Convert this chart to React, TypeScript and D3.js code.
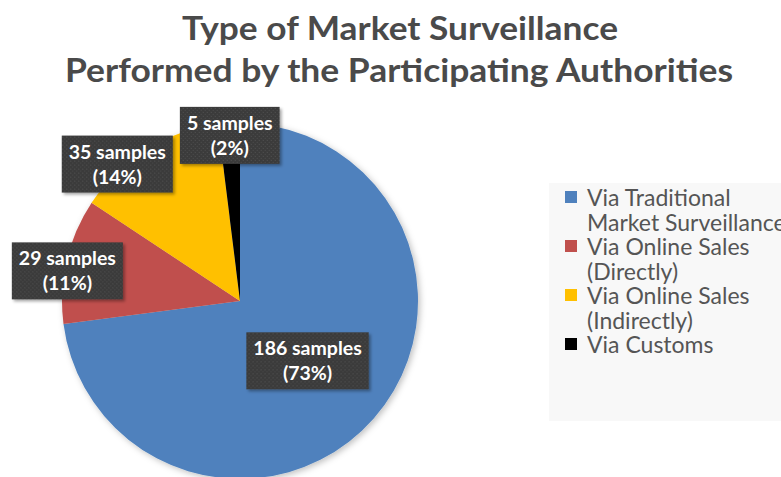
import React, { useEffect, useRef } from "react";
import * as d3 from "d3";

const titleLines = ["Type of Market Surveillance", "Performed by the Participating Authorities"];
const categories = [
  "Via Traditional Market Surveillance",
  "Via Online Sales (Directly)",
  "Via Online Sales (Indirectly)",
  "Via Customs",
];
const legendLines = [
  ["Via Traditional", "Market Surveillance"],
  ["Via Online Sales", "(Directly)"],
  ["Via Online Sales", "(Indirectly)"],
  ["Via Customs"],
];
const sampleCounts = [186, 29, 35, 5];
const percentLabels = ["73%", "11%", "14%", "2%"];
const colors = ["#4f81bd", "#c0504d", "#ffc000", "#000000"];

// label placement (layout): radius factor and angle nudge (deg) from slice middle
const labelRadiusFactor = [0.505, 0.985, 1.035, 0.935];
const labelAngleNudge = [0, -3, -10, 0];

const W = 781;
const H = 477;

export default function App() {
  const ref = useRef<SVGSVGElement>(null);

  useEffect(() => {
    const svg = d3.select(ref.current);
    svg.selectAll("*").remove();

    const defs = svg.append("defs");
    const pat = defs
      .append("pattern")
      .attr("id", "dots")
      .attr("width", 4)
      .attr("height", 4)
      .attr("patternUnits", "userSpaceOnUse");
    pat.append("rect").attr("width", 4).attr("height", 4).attr("fill", "#3b3b3b");
    pat.append("rect").attr("x", 1).attr("y", 1).attr("width", 1).attr("height", 1).attr("fill", "#555555");
    pat.append("rect").attr("x", 3).attr("y", 3).attr("width", 1).attr("height", 1).attr("fill", "#4c4c4c");

    const f = defs.append("filter").attr("id", "shadow").attr("x", "-20%").attr("y", "-20%").attr("width", "140%").attr("height", "140%");
    f.append("feDropShadow").attr("dx", 2).attr("dy", 2).attr("stdDeviation", 1.5).attr("flood-color", "#000").attr("flood-opacity", 0.35);
    const f2 = defs.append("filter").attr("id", "pieShadow").attr("x", "-20%").attr("y", "-20%").attr("width", "140%").attr("height", "140%");
    f2.append("feDropShadow").attr("dx", 2).attr("dy", 2).attr("stdDeviation", 3).attr("flood-color", "#000").attr("flood-opacity", 0.25);

    svg.append("rect").attr("width", W).attr("height", H).attr("fill", "#ffffff");

    // title
    const title = svg
      .append("g")
      .attr("font-family", "Lato, 'Open Sans', sans-serif")
      .attr("font-weight", 700)
      .attr("font-size", 33)
      .attr("fill", "#4a4a4a")
      .attr("text-anchor", "middle");
    title
      .append("text")
      .attr("x", 400)
      .attr("y", 40)
      .attr("textLength", 436)
      .attr("lengthAdjust", "spacingAndGlyphs")
      .text(titleLines[0]);
    title
      .append("text")
      .attr("x", 399)
      .attr("y", 82)
      .attr("textLength", 668)
      .attr("lengthAdjust", "spacingAndGlyphs")
      .text(titleLines[1]);

    // legend
    const legend = svg.append("g");
    legend.append("rect").attr("x", 549).attr("y", 183).attr("width", W - 549).attr("height", 238).attr("fill", "#f8f8f8");
    const lineH = 24.5;
    let row = 0;
    legendLines.forEach((lines, i) => {
      const y0 = 206 + row * lineH;
      legend
        .append("rect")
        .attr("x", 565)
        .attr("y", y0 - 15)
        .attr("width", 12)
        .attr("height", 12)
        .attr("fill", colors[i]);
      lines.forEach((ln, j) => {
        legend
          .append("text")
          .attr("x", 587)
          .attr("y", y0 + j * lineH)
          .attr("font-family", "Lato, 'Open Sans', sans-serif")
          .attr("font-size", 23)
          .attr("fill", "#555555")
          .text(ln);
      });
      row += lines.length;
    });

    // pie
    const cx = 240;
    const cy = 301;
    const r = 178;
    const pie = d3
      .pie<number>()
      .sort(null)
      .value((d) => d)
      .startAngle(0)
      .endAngle(2 * Math.PI);
    const arcs = pie(sampleCounts);
    const arc = d3.arc<d3.PieArcDatum<number>>().innerRadius(0).outerRadius(r);
    const g = svg.append("g").attr("transform", `translate(${cx},${cy})`);
    g.append("g")
      .attr("filter", "url(#pieShadow)")
      .selectAll("path")
      .data(arcs)
      .join("path")
      .attr("d", arc)
      .attr("fill", (_, i) => colors[i]);

    // labels
    arcs.forEach((a, i) => {
      const mid = (a.startAngle + a.endAngle) / 2 + (labelAngleNudge[i] * Math.PI) / 180;
      const lr = r * labelRadiusFactor[i];
      const x = Math.sin(mid) * lr;
      const y = -Math.cos(mid) * lr;
      const lg = g.append("g").attr("transform", `translate(${x},${y})`);
      const box = lg.append("rect").attr("fill", "url(#dots)").attr("filter", "url(#shadow)");
      const txt = lg
        .append("text")
        .attr("text-anchor", "middle")
        .attr("font-family", "Lato, 'Open Sans', sans-serif")
        .attr("font-weight", 700)
        .attr("font-size", 19.5)
        .attr("fill", "#ffffff");
      txt.append("tspan").attr("x", 0).attr("y", -5).text(`${sampleCounts[i]} samples`);
      txt.append("tspan").attr("x", 0).attr("y", 20).text(`(${percentLabels[i]})`);
      const bb = (txt.node() as SVGTextElement).getBBox();
      const padX = 7;
      box
        .attr("x", bb.x - padX)
        .attr("y", -28)
        .attr("width", bb.width + 2 * padX)
        .attr("height", 57);
    });
  }, []);

  return (
    <div style={{ position: "absolute", left: 0, top: 0 }}>
      <svg ref={ref} width={W} height={H} style={{ display: "block" }} />
    </div>
  );
}
